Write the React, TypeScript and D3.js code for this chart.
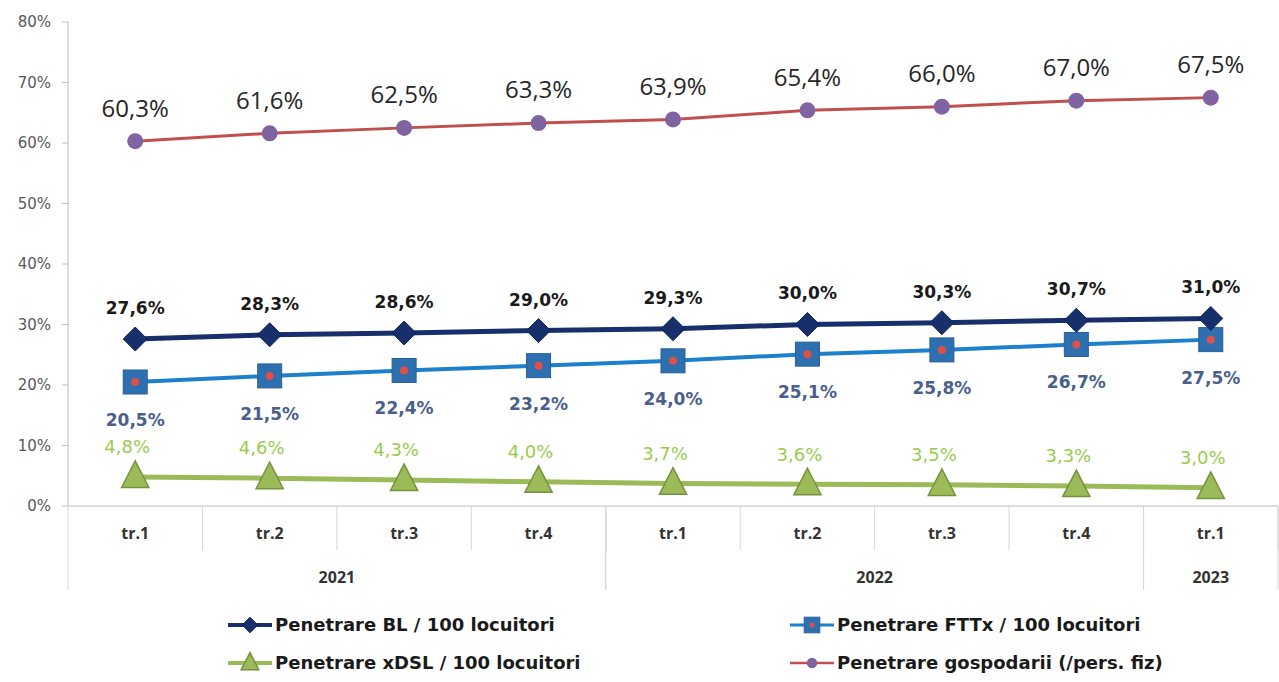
import React from "react";
import * as d3 from "d3";

const quarters = ["tr.1", "tr.2", "tr.3", "tr.4", "tr.1", "tr.2", "tr.3", "tr.4", "tr.1"];
const years = [
  { label: "2021", start: 0, end: 4 },
  { label: "2022", start: 4, end: 8 },
  { label: "2023", start: 8, end: 9 },
];
const bl = [27.6, 28.3, 28.6, 29.0, 29.3, 30.0, 30.3, 30.7, 31.0];
const fttx = [20.5, 21.5, 22.4, 23.2, 24.0, 25.1, 25.8, 26.7, 27.5];
const xdsl = [4.8, 4.6, 4.3, 4.0, 3.7, 3.6, 3.5, 3.3, 3.0];
const gosp = [60.3, 61.6, 62.5, 63.3, 63.9, 65.4, 66.0, 67.0, 67.5];
const yTicks = [0, 10, 20, 30, 40, 50, 60, 70, 80];

const W = 1279;
const H = 682;
const left = 68;
const right = 1278;
const top = 22;
const bottom = 506;
const DJ = "'DejaVu Sans', sans-serif";
const OS = "'Open Sans', sans-serif";

const fmt = (v: number) => v.toFixed(1).replace(".", ",") + "%";

export default function App() {
  const x = d3.scaleBand<number>().domain(d3.range(quarters.length)).range([left, right]);
  const y = d3.scaleLinear().domain([0, 80]).range([bottom, top]);
  const cx = (i: number) => (x(i) as number) + x.bandwidth() / 2;
  const line = d3
    .line<number>()
    .x((_, i) => cx(i))
    .y((d) => y(d));

  const diamond = (px: number, py: number, r: number) =>
    `M${px},${py - r}L${px + r},${py}L${px},${py + r}L${px - r},${py}Z`;
  const tri = (px: number, py: number, r: number) =>
    `M${px},${py - r}L${px + r * 0.85},${py + r * 0.66}L${px - r * 0.85},${py + r * 0.66}Z`;

  const legendItems = [
    { name: "Penetrare BL / 100 locuitori", kind: "bl", lx: 228, ly: 625 },
    { name: "Penetrare FTTx / 100 locuitori", kind: "fttx", lx: 790, ly: 625 },
    { name: "Penetrare xDSL / 100 locuitori", kind: "xdsl", lx: 228, ly: 663 },
    { name: "Penetrare gospodarii (/pers. fiz)", kind: "gosp", lx: 790, ly: 663 },
  ];

  const marker = (kind: string, px: number, py: number, s = 1) => {
    if (kind === "bl")
      return <path d={diamond(px, py, 12 * s)} fill="#17306b" stroke="#0f2356" strokeWidth={1} />;
    if (kind === "fttx")
      return (
        <g>
          <rect x={px - 12 * s} y={py - 12 * s} width={24 * s} height={24 * s} fill="#2e6fb0" stroke="#2a5f96" strokeWidth={1} />
          <circle cx={px} cy={py} r={4 * s} fill="#e0504a" />
        </g>
      );
    if (kind === "xdsl")
      return <path d={tri(px, py, 16 * s)} fill="#9bbb59" stroke="#76923c" strokeWidth={1.5} />;
    return <circle cx={px} cy={py} r={8 * s} fill="#8064a2" />;
  };

  const lineColor: Record<string, string> = {
    bl: "#17306b",
    fttx: "#1c80cc",
    xdsl: "#9bbb59",
    gosp: "#c0504d",
  };
  const lineW: Record<string, number> = { bl: 5, fttx: 4, xdsl: 5, gosp: 3 };

  const series = [
    { kind: "xdsl", data: xdsl },
    { kind: "fttx", data: fttx },
    { kind: "bl", data: bl },
    { kind: "gosp", data: gosp },
  ];

  return (
    <svg width={W} height={H} style={{ display: "block", position: "absolute", left: 0, top: 0, background: "#fff" }}>
      <rect width={W} height={H} fill="#fff" />
      {/* y axis */}
      <line x1={left} x2={left} y1={top} y2={bottom} stroke="#bfbfbf" strokeWidth={1} />
      {yTicks.map((t) => (
        <g key={t}>
          <line x1={left - 6} x2={left} y1={y(t)} y2={y(t)} stroke="#bfbfbf" />
          <text x={51} y={y(t)} dy="0.35em" textAnchor="end" fontFamily={DJ} fontSize={15} fill="#595959">
            {t}%
          </text>
        </g>
      ))}
      {/* x axis */}
      <line x1={left} x2={right} y1={bottom} y2={bottom} stroke="#bfbfbf" strokeWidth={1} />
      {quarters.map((q, i) => (
        <g key={i}>
          <line x1={(x(i) as number) + x.bandwidth()} x2={(x(i) as number) + x.bandwidth()} y1={bottom} y2={550} stroke="#d6d6d6" />
          <text x={cx(i)} y={533} dy="0.35em" textAnchor="middle" fontFamily={OS} fontWeight="bold" fontSize={16} fill="#333">
            {q}
          </text>
        </g>
      ))}
      {years.map((yr) => {
        const x0 = x(yr.start) as number;
        const x1 = (x(yr.end - 1) as number) + x.bandwidth();
        return (
          <g key={yr.label}>
            <line x1={x0} x2={x0} y1={bottom} y2={590} stroke="#d6d6d6" />
            <line x1={x1} x2={x1} y1={bottom} y2={590} stroke="#d6d6d6" />
            <text x={(x0 + x1) / 2} y={577} dy="0.35em" textAnchor="middle" fontFamily={OS} fontWeight="bold" fontSize={16} fill="#333">
              {yr.label}
            </text>
          </g>
        );
      })}
      {/* lines */}
      {series.map((s) => (
        <g key={s.kind}>
          <path d={line(s.data) || ""} fill="none" stroke={lineColor[s.kind]} strokeWidth={lineW[s.kind]} />
          {s.data.map((v, i) => (
            <g key={i}>{marker(s.kind, cx(i), y(v))}</g>
          ))}
        </g>
      ))}
      {/* labels */}
      {gosp.map((v, i) => (
        <text key={"g" + i} x={cx(i)} y={y(v) - 33} dy="0.35em" textAnchor="middle" fontFamily={OS} fontSize={24} fill="#262626">
          {fmt(v)}
        </text>
      ))}
      {bl.map((v, i) => (
        <text key={"b" + i} x={cx(i)} y={y(v) - 31} dy="0.35em" textAnchor="middle" fontFamily={DJ} fontWeight="bold" fontSize={17} fill="#1a1a1a">
          {fmt(v)}
        </text>
      ))}
      {fttx.map((v, i) => (
        <text key={"f" + i} x={cx(i)} y={y(v) + 38} dy="0.35em" textAnchor="middle" fontFamily={DJ} fontWeight="bold" fontSize={17} fill="#4a5f8c">
          {fmt(v)}
        </text>
      ))}
      {xdsl.map((v, i) => (
        <text key={"x" + i} x={cx(i) - 8} y={y(v) - 30} dy="0.35em" textAnchor="middle" fontFamily={DJ} fontSize={18} fill="#9acb4e">
          {fmt(v)}
        </text>
      ))}
      {/* legend */}
      {legendItems.map((it) => (
        <g key={it.kind}>
          <line x1={it.lx} x2={it.lx + 44} y1={it.ly} y2={it.ly} stroke={lineColor[it.kind]} strokeWidth={lineW[it.kind] * 0.8} />
          {marker(it.kind, it.lx + 22, it.ly, 0.65)}
          <text x={it.lx + 47} y={it.ly} dy="0.35em" fontFamily={DJ} fontWeight="bold" fontSize={18} fill="#1a1a1a">
            {it.name}
          </text>
        </g>
      ))}
    </svg>
  );
}
